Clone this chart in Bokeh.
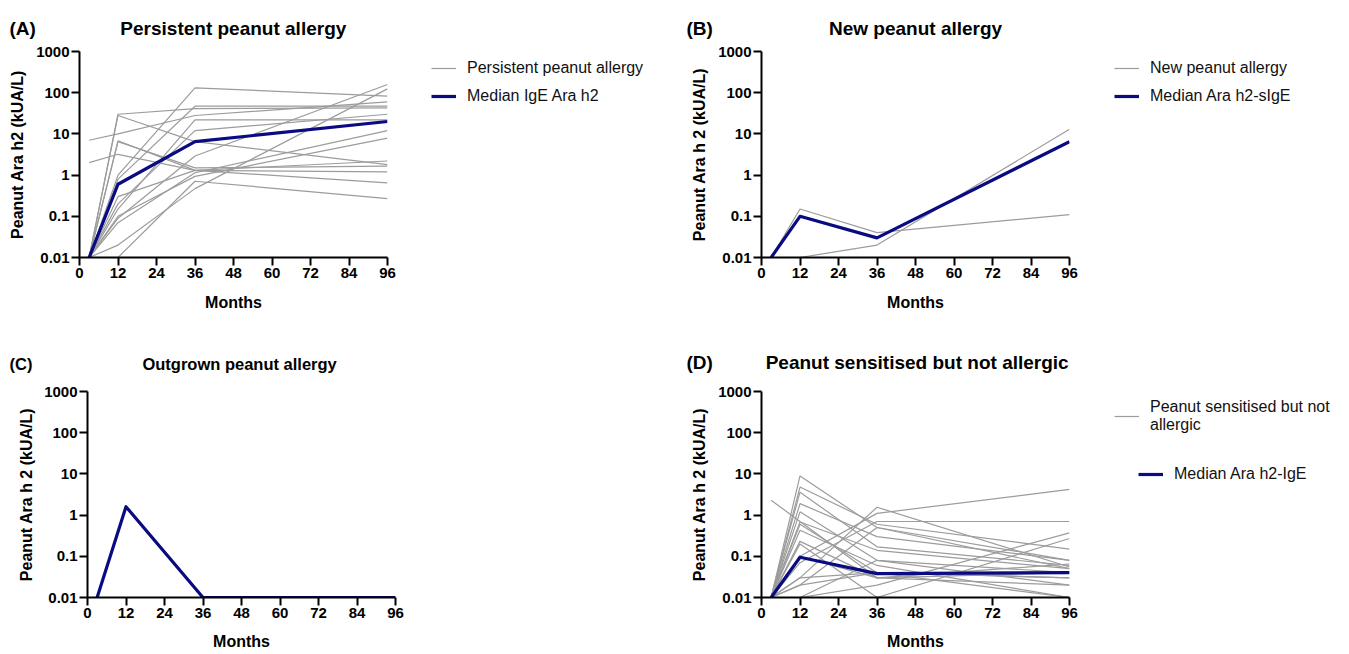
from bokeh.plotting import figure
from bokeh.models import Range1d, FixedTicker, Legend, LegendItem
from bokeh.layouts import column, row
from bokeh.embed import file_html
from bokeh.resources import INLINE

# ---------------- data ----------------
MONTHS = [3, 12, 36, 96]
X_TICKS = [0, 12, 24, 36, 48, 60, 72, 84, 96]
Y_TICKS = [0.01, 0.1, 1, 10, 100, 1000]
Y_TICK_LABELS = ["0.01", "0.1", "1", "10", "100", "1000"]

persistent_individual = [
    [7, 10, 28, 60],
    [2, 3.2, 1.3, 0.65],
    [0.01, 30, 41, 43],
    [0.01, 28, 6.5, 1.8],
    [0.01, 6.8, 1.3, 2.2],
    [0.01, 6.5, 1.5, 1.65],
    [0.01, 1.0, 131, 83],
    [0.01, 0.8, 47, 47],
    [0.01, 0.2, 12, 30],
    [0.01, 0.15, 22, 22],
    [0.01, 0.09, 2.9, 158],
    [0.01, 0.07, 1.14, 12],
    [0.01, 0.1, 0.93, 7.9],
    [0.01, 0.02, 0.47, 124],
    [0.01, 0.01, 0.71, 0.27],
    [0.01, 0.3, 1.3, 1.2],
]
persistent_median = [0.01, 0.6, 6.5, 20]

new_individual = [
    [0.01, 0.15, 0.04, 0.11],
    [0.01, 0.01, 0.02, 13],
]
new_median = [0.01, 0.1, 0.03, 6.5]

outgrown_median = [0.01, 1.6, 0.01, 0.01]

sensitised_individual = [
    [2.3, 0.7, 0.03, 0.02],
    [0.01, 8.9, 0.5, 0.05],
    [0.01, 4.8, 0.6, 0.15],
    [0.01, 3.6, 0.17, 0.06],
    [0.01, 1.9, 0.3, 0.08],
    [0.01, 1.2, 0.08, 0.04],
    [0.01, 0.68, 0.14, 0.05],
    [0.01, 0.6, 0.04, 0.03],
    [0.01, 0.43, 0.06, 0.01],
    [0.01, 0.23, 0.03, 0.065],
    [0.01, 0.2, 0.01, 0.01],
    [0.01, 0.1, 1.1, 4.2],
    [0.01, 0.07, 0.7, 0.7],
    [0.01, 0.03, 1.55, 0.055],
    [0.01, 0.02, 0.5, 0.08],
    [0.01, 0.01, 0.02, 0.37],
    [0.01, 0.01, 0.01, 0.27],
    [0.01, 0.03, 0.04, 0.03],
    [0.01, 0.01, 0.08, 0.02],
    [0.01, 0.1, 0.03, 0.04],
    [0.01, 0.02, 0.04, 0.01],
]
sensitised_median = [0.01, 0.095, 0.038, 0.04]

FONT = "Liberation Sans"
GREY = "#9c9c9c"
NAVY = "#0a0a82"
NBSP = "\u00a0"


def make_panel(tag, gap, title, title_size, title_offset, title_standoff,
               ylabel, individual, median, left, right, top, bottom,
               ylab_standoff, xlab_standoff):
    p = figure(frame_width=308, frame_height=206,
               min_border_left=left, min_border_right=right,
               min_border_top=top, min_border_bottom=bottom,
               x_range=Range1d(0, 96), y_range=Range1d(0.01, 1000),
               y_axis_type="log", output_backend="svg",
               toolbar_location=None, tools="")
    p.outline_line_color = None
    p.grid.visible = False

    # panel tag and title share the title line
    p.title.text = tag + NBSP * gap + title
    p.title.align = "left"
    p.title.offset = title_offset
    p.title.text_font = FONT
    p.title.text_font_style = "bold"
    p.title.text_font_size = title_size
    p.title.text_color = "black"
    p.title.standoff = title_standoff

    for ax in (p.xaxis[0], p.yaxis[0]):
        ax.axis_line_width = 2
        ax.axis_line_color = "black"
        ax.major_tick_line_width = 2
        ax.major_tick_line_color = "black"
        ax.major_tick_out = 8
        ax.major_tick_in = 0
        ax.minor_tick_line_color = None
        ax.major_label_text_font = FONT
        ax.major_label_text_font_style = "bold"
        ax.major_label_text_font_size = "15px"
        ax.major_label_text_color = "black"
        ax.axis_label_text_font = FONT
        ax.axis_label_text_font_style = "bold"
        ax.axis_label_text_font_size = "16px"
        ax.axis_label_text_color = "black"

    p.xaxis.ticker = FixedTicker(ticks=X_TICKS)
    p.xaxis.major_label_standoff = 2
    p.xaxis.axis_label = "Months"
    p.xaxis.axis_label_standoff = xlab_standoff

    p.yaxis.ticker = FixedTicker(ticks=Y_TICKS)
    p.yaxis.major_label_overrides = {t: s for t, s in zip(Y_TICKS, Y_TICK_LABELS)}
    p.yaxis.major_label_standoff = 2
    p.yaxis.axis_label = ylabel
    p.yaxis.axis_label_standoff = ylab_standoff

    for series in individual:
        p.line(MONTHS, series, line_color=GREY, line_width=1.2)
    p.line(MONTHS, median, line_color=NAVY, line_width=3.2, line_join="round")
    return p


def make_legend_area(width, top, bottom, grey_series, median_series):
    """A blank figure beside a panel that holds that panel's legend.
    Its ranges keep the proxy lines out of view; only the legend keys show."""
    f = figure(frame_width=width, frame_height=206, min_border_left=0,
               min_border_right=0, min_border_top=top, min_border_bottom=bottom,
               x_range=Range1d(-2, -1), y_range=Range1d(-2, -1),
               x_axis_location=None, y_axis_location=None,
               output_backend="svg", toolbar_location=None, tools="")
    f.outline_line_color = None
    f.grid.visible = False
    grey = f.line(MONTHS, grey_series, line_color=GREY, line_width=1.2)
    navy = f.line(MONTHS, median_series, line_color=NAVY, line_width=3.2)
    return f, grey, navy


def style_legend(lg, line_height=1.2):
    lg.label_text_font = FONT
    lg.label_text_font_size = "16px"
    lg.label_text_color = "#111111"
    lg.label_text_line_height = line_height
    lg.glyph_width = 25
    lg.label_standoff = 11
    lg.spacing = 8
    lg.padding = 0
    lg.margin = 0
    lg.border_line_color = None
    lg.background_fill_alpha = 0
    return lg


# Panel A
pA = make_panel("(A)", 16, "Persistent peanut allergy", "19px", 10 - 80, 26,
                "Peanut Ara h2 (kUA/L)", persistent_individual,
                persistent_median, 79, 12, 51, 72, 7, 13)
lA, lA_grey, lA_navy = make_legend_area(280, 51, 72, persistent_individual[0],
                                        persistent_median)
lA.add_layout(style_legend(Legend(items=[
    LegendItem(label="Persistent peanut allergy", renderers=[lA_grey]),
    LegendItem(label="Median IgE Ara h2", renderers=[lA_navy])],
    location=(32, 151))))

# Panel B
pB = make_panel("(B)", 22, "New peanut allergy", "19px", 687 - 762, 26,
                "Peanut Ara h 2 (kUA/L)", new_individual,
                new_median, 82, 12, 51, 72, 7, 13)
lB, lB_grey, lB_navy = make_legend_area(263, 51, 72, new_individual[0], new_median)
lB.add_layout(style_legend(Legend(items=[
    LegendItem(label="New peanut allergy", renderers=[lB_grey]),
    LegendItem(label="Median Ara h2-sIgE", renderers=[lB_navy])],
    location=(33, 151))))

# Panel C
pC = make_panel("(C)", 24, "Outgrown peanut allergy", "16.5px", 10 - 88, 38,
                "Peanut Ara h 2 (kUA/L)", [], outgrown_median,
                87, 679 - 87 - 308, 62, 54, 6, 12)

# Panel D
pD = make_panel("(D)", 10, "Peanut sensitised but not allergic", "19px", 687 - 762, 38,
                "Peanut Ara h 2 (kUA/L)", sensitised_individual,
                sensitised_median, 82, 12, 62, 54, 7, 12)
lD, lD_grey, lD_navy = make_legend_area(263, 62, 54, sensitised_individual[0],
                                        sensitised_median)
lD.add_layout(style_legend(Legend(items=[
    LegendItem(label="Peanut sensitised but not\nallergic", renderers=[lD_grey])],
    location=(33, 163)), line_height=1.25))
lD.add_layout(style_legend(Legend(items=[
    LegendItem(label="Median Ara h2-IgE", renderers=[lD_navy])],
    location=(57, 113))))

layout = column(row(pA, lA, pB, lB), row(pC, pD, lD))
open("out.html", "w").write(file_html(layout, INLINE))
